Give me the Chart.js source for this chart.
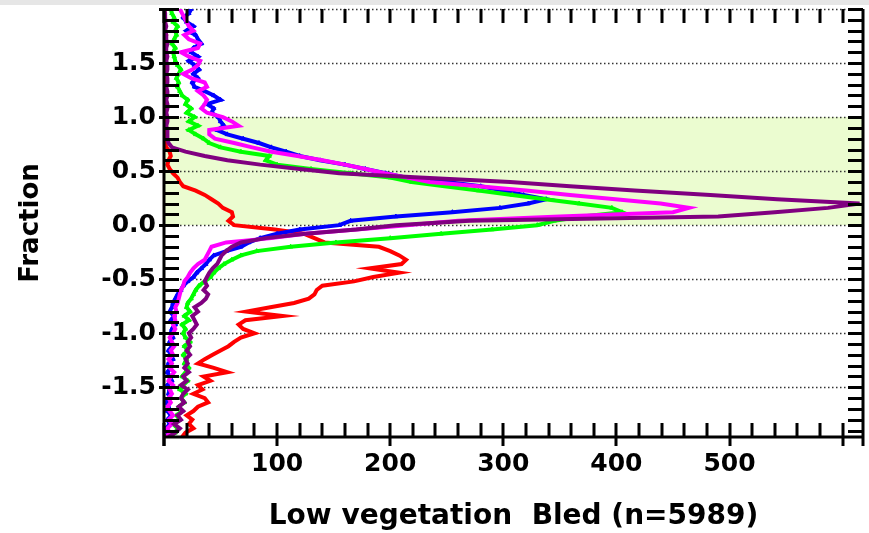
<!DOCTYPE html>
<html>
<head>
<meta charset="utf-8">
<script src="https://cdn.jsdelivr.net/npm/chart.js@4.4.1/dist/chart.umd.min.js"></script>
<style>
  html, body { margin: 0; padding: 0; background: #fff; }
  canvas { display: block; }
</style>
</head>
<body>
<canvas id="myChart" width="869" height="533"></canvas>
<script>
// histogram bins (fraction), bottom to top
const fractionBins = [
  -1.96, -1.92, -1.88, -1.84, -1.80, -1.76, -1.72, -1.68, -1.64, -1.60,
  -1.56, -1.52, -1.48, -1.44, -1.40, -1.36, -1.32, -1.28, -1.24, -1.20,
  -1.16, -1.12, -1.08, -1.04, -1.00, -0.96, -0.92, -0.88, -0.84, -0.80,
  -0.76, -0.72, -0.68, -0.64, -0.60, -0.56, -0.52, -0.48, -0.44, -0.40,
  -0.36, -0.32, -0.28, -0.24, -0.20, -0.16, -0.12, -0.08, -0.04, 0.00,
  0.04, 0.08, 0.12, 0.16, 0.20, 0.24, 0.28, 0.32, 0.36, 0.40,
  0.44, 0.48, 0.52, 0.56, 0.60, 0.64, 0.68, 0.72, 0.76, 0.80,
  0.84, 0.88, 0.92, 0.96, 1.00, 1.04, 1.08, 1.12, 1.16, 1.20,
  1.24, 1.28, 1.32, 1.36, 1.40, 1.44, 1.48, 1.52, 1.56, 1.60,
  1.64, 1.68, 1.72, 1.76, 1.80, 1.84, 1.88, 1.92, 1.96, 2.00
];

// counts per bin for each series
const redCounts = [
  16, 19, 26, 22, 25, 20, 26, 30, 39, 36,
  26, 34, 30, 41, 35, 56, 44, 30, 36, 43,
  50, 57, 62, 68, 80, 70, 66, 72, 105, 73,
  94, 115, 128, 133, 135, 140, 168, 185, 208, 182,
  210, 214, 208, 200, 190, 142, 133, 124, 98, 62,
  57, 61, 60, 52, 48, 42, 36, 28, 17, 14,
  12, 8, 5, 3, 4, 6, 5, 2, 1, 1,
  1, 0, 1, 1, 0, 1, 1, 0, 1, 1,
  0, 1, 1, 0, 1, 1, 0, 1, 0, 1,
  1, 0, 1, 2, 1, 0, 1, 1, 0, 1
];
const blueCounts = [
  2, 4, 2, 5, 3, 6, 3, 4, 2, 6,
  4, 5, 3, 7, 5, 3, 6, 4, 8, 6,
  4, 7, 5, 8, 6, 7, 10, 6, 9, 5,
  7, 8, 10, 12, 15, 17, 21, 26, 29, 33,
  37, 40, 44, 55, 68, 75, 85, 100, 120, 155,
  165, 205, 255, 297, 322, 338, 318, 300, 280, 250,
  214, 196, 178, 160, 138, 120, 108, 95, 84, 70,
  56, 47, 53, 50, 48, 42, 44, 38, 50, 44,
  36, 27, 25, 30, 26, 31, 27, 22, 30, 24,
  26, 33, 30, 28, 20, 26, 20, 17, 22, 24
];
const greenCounts = [
  5, 10, 12, 8, 14, 11, 16, 13, 18, 15,
  19, 14, 17, 21, 16, 19, 22, 18, 20, 17,
  21, 18, 23, 19, 17, 19, 16, 22, 18, 23,
  20, 21, 24, 26, 28, 31, 36, 41, 44, 48,
  53, 60, 68, 82, 112, 152, 200, 245, 290, 330,
  345, 370, 405, 396, 367, 337, 308, 278, 248, 219,
  200, 165, 130, 100, 90, 93, 68, 50, 40, 35,
  28, 22, 30, 22, 27, 20, 24, 19, 21, 16,
  14, 12, 13, 11, 13, 15, 12, 10, 9, 8,
  10, 7, 9, 11, 10, 12, 8, 9, 7, 6
];
const magentaCounts = [
  2, 5, 3, 7, 4, 8, 5, 3, 6, 4,
  7, 5, 8, 4, 6, 9, 5, 7, 4, 8,
  6, 9, 7, 5, 8, 10, 8, 10, 9, 11,
  10, 12, 13, 14, 15, 17, 18, 21, 23, 26,
  30, 36, 38, 40, 42, 55, 95, 125, 170, 215,
  260, 350, 450, 464, 439, 399, 359, 320, 278, 235,
  215, 195, 178, 160, 140, 118, 95, 78, 62, 45,
  40, 40, 66, 60, 52, 38, 33, 36, 38, 35,
  30, 38, 36, 24, 17, 25, 30, 32, 22, 15,
  30, 32, 22, 18, 26, 22, 20, 18, 16, 14
];
const purpleCounts = [
  4, 10, 14, 9, 15, 12, 17, 13, 18, 15,
  17, 21, 15, 20, 17, 22, 18, 21, 19, 23,
  20, 23, 21, 24, 22, 26, 29, 27, 25, 30,
  27, 33, 37, 39, 35, 38, 36, 38, 40, 43,
  47, 49, 51, 55, 60, 68, 90, 125, 170, 205,
  270, 490, 540, 587, 615, 542, 483, 416, 359, 306,
  226, 155, 120, 85, 56, 36, 19, 7, 4, 3,
  3, 3, 2, 3, 3, 2, 3, 3, 2, 3,
  3, 2, 3, 3, 2, 3, 3, 2, 3, 2,
  2, 3, 2, 2, 1, 2, 1, 1, 1, 0
];

const xTickValues = [100, 200, 300, 400, 500];
const yTickValues = [-1.5, -1.0, -0.5, 0.0, 0.5, 1.0, 1.5];
const gridValues = [-1.5, -1.0, -0.5, 0.0, 0.5, 1.0, 1.5, 2.0];
const bandRange = [0.0, 1.0];

const FONT = "'DejaVu Sans', Verdana, sans-serif";

function toPoints(counts) {
  return counts.map((c, i) => ({ x: c, y: fractionBins[i] }));
}

function series(label, color, counts, order, marker) {
  return {
    label: label,
    data: toPoints(counts),
    showLine: true,
    borderColor: color,
    backgroundColor: color,
    borderWidth: 4,
    tension: 0,
    pointRadius: marker ? 2.5 : 0,
    pointStyle: 'triangle',
    pointBorderWidth: 1,
    order: order,
  };
}

// axis frame, minor ticks, shaded band and dotted grid
const framePlugin = {
  id: 'frame',
  beforeDraw(chart) {
    const ctx = chart.ctx;
    ctx.save();
    ctx.fillStyle = '#e6e6e6';
    ctx.fillRect(0, 0, chart.width, 5);
    ctx.restore();
  },
  beforeDatasetsDraw(chart) {
    const { ctx, chartArea: a, scales: { y } } = chart;
    ctx.save();
    const yTop = y.getPixelForValue(bandRange[1]);
    const yBot = y.getPixelForValue(bandRange[0]);
    ctx.fillStyle = '#ebfcd0';
    ctx.fillRect(a.left, yTop, a.right - a.left, yBot - yTop);

    ctx.strokeStyle = '#333';
    ctx.lineWidth = 1.5;
    ctx.setLineDash([1.5, 2.5]);
    gridValues.forEach((v) => {
      const py = Math.round(y.getPixelForValue(v)) + 0.5;
      ctx.beginPath();
      ctx.moveTo(a.left, py);
      ctx.lineTo(a.right, py);
      ctx.stroke();
    });
    ctx.restore();
  },
  afterDatasetsDraw(chart) {
    const { ctx, chartArea: a, scales: { x, y } } = chart;
    ctx.save();
    ctx.strokeStyle = '#000';
    ctx.lineWidth = 3;

    // x ticks every 20, major every 100
    for (let k = 0; k <= 30; k++) {
      const px = Math.round(x.getPixelForValue(k * 20));
      const major = k % 5 === 0;
      ctx.beginPath();
      ctx.moveTo(px, a.bottom + (major ? 9 : 0));
      ctx.lineTo(px, a.bottom - 14);
      ctx.moveTo(px, a.top);
      ctx.lineTo(px, a.top + 14);
      ctx.stroke();
    }
    // y ticks every 0.1, major every 0.5
    for (let k = -19; k <= 20; k++) {
      const py = Math.round(y.getPixelForValue(k / 10)) + 0.5;
      const major = k % 5 === 0;
      ctx.beginPath();
      ctx.moveTo(a.left - (major ? 5 : 0), py);
      ctx.lineTo(a.left + 15, py);
      ctx.moveTo(a.right - 15, py);
      ctx.lineTo(a.right, py);
      ctx.stroke();
    }

    // left, bottom, right axis lines
    ctx.beginPath();
    ctx.moveTo(a.left, a.top);
    ctx.lineTo(a.left, a.bottom + 9);
    ctx.moveTo(a.left - 1.5, a.bottom);
    ctx.lineTo(a.right + 1.5, a.bottom);
    ctx.moveTo(a.right, a.top);
    ctx.lineTo(a.right, a.bottom + 9);
    ctx.stroke();
    ctx.restore();
  }
};

const ctx = document.getElementById('myChart');

const myChart = new Chart(ctx, {
  type: 'scatter',
  data: {
    datasets: [
      series('purple', '#800080', purpleCounts, 0, false),
      series('magenta', '#ff00ff', magentaCounts, 1, false),
      series('green', '#00ff00', greenCounts, 2, true),
      series('blue', '#0000ff', blueCounts, 3, true),
      series('red', '#ff0000', redCounts, 4, false),
    ],
  },
  options: {
    responsive: false,
    animation: false,
    layout: { padding: { top: 9, right: 6, left: 0, bottom: 0 } },
    plugins: {
      legend: { display: false },
      tooltip: { enabled: false },
    },
    scales: {
      x: {
        type: 'linear',
        min: 0,
        max: 618,
        afterFit(scale) {
          scale.height = 96;
          scale.paddingLeft = 0;
          scale.paddingRight = 0;
        },
        afterBuildTicks(scale) { scale.ticks = xTickValues.map((v) => ({ value: v })); },
        grid: { display: false, drawTicks: false },
        border: { display: false },
        ticks: {
          color: '#000',
          padding: 12,
          maxRotation: 0,
          autoSkip: false,
          font: { family: FONT, size: 25, weight: 'bold' },
        },
        title: {
          display: true,
          text: 'Low vegetation  Bled (n=5989)',
          color: '#000',
          padding: { top: 4, bottom: 2 },
          font: { family: FONT, size: 28, weight: 'bold', lineHeight: 1.0 },
        },
      },
      y: {
        type: 'linear',
        min: -1.96,
        max: 2.0,
        afterFit(scale) {
          scale.width = 164;
          scale.paddingTop = 0;
          scale.paddingBottom = 0;
        },
        afterBuildTicks(scale) { scale.ticks = yTickValues.map((v) => ({ value: v })); },
        grid: { display: false, drawTicks: false },
        border: { display: false },
        ticks: {
          color: '#000',
          padding: 8,
          autoSkip: false,
          callback: (v) => Number(v).toFixed(1),
          font: { family: FONT, size: 25, weight: 'bold' },
        },
        title: {
          display: true,
          text: 'Fraction',
          color: '#000',
          padding: { top: 16, bottom: 0 },
          font: { family: FONT, size: 26, weight: 'bold' },
        },
      },
    },
  },
  plugins: [framePlugin],
});
</script>
</body>
</html>
